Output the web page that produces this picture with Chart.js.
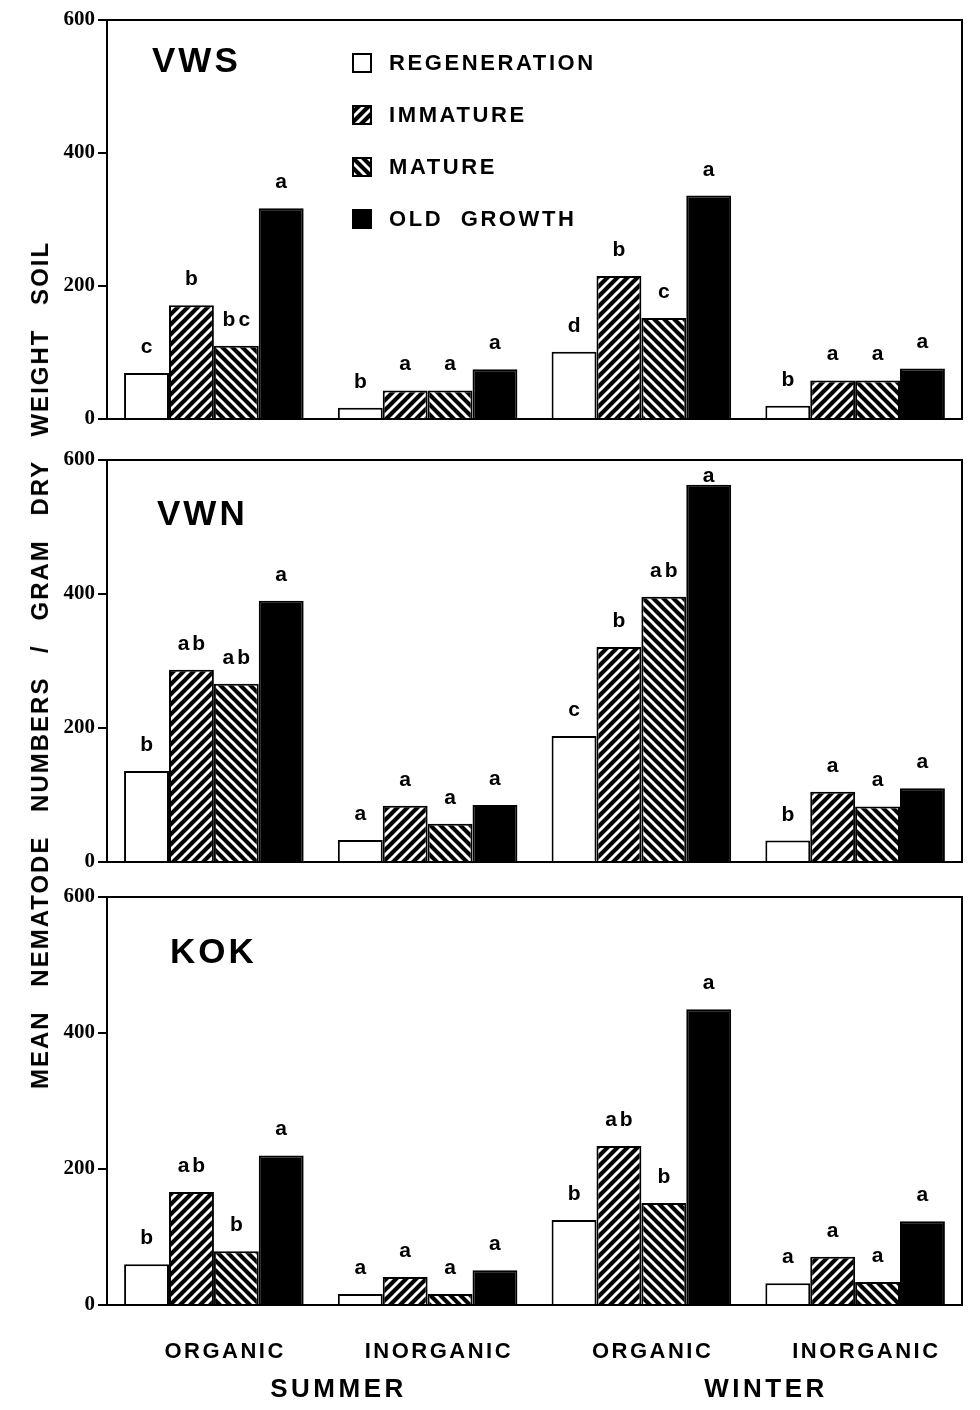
<!DOCTYPE html>
<html><head><meta charset="utf-8">
<script src="https://cdn.jsdelivr.net/npm/chart.js@4.4.1/dist/chart.umd.min.js"></script>
<style>
html,body{margin:0;padding:0;background:#fff;}
#wrap{position:relative;width:980px;height:1410px;overflow:hidden;}
canvas{position:absolute;left:0;}
#ytitle{position:absolute;left:40px;top:665px;transform:translate(-50%,-50%) rotate(-90deg);
 font:bold 24px "Liberation Sans",Arial,sans-serif;letter-spacing:2px;word-spacing:15px;white-space:nowrap;color:#000;}
</style></head>
<body><div id="wrap">
<canvas id="c1" width="980" height="440" style="top:0px"></canvas>
<canvas id="c2" width="980" height="440" style="top:440px"></canvas>
<canvas id="c3" width="980" height="530" style="top:880px"></canvas>
<div id="ytitle">MEAN NEMATODE NUMBERS / GRAM DRY WEIGHT SOIL</div>
</div>
<script>
// ---- data ----
const groups = ['ORGANIC', 'INORGANIC', 'ORGANIC', 'INORGANIC'];
const seasons = ['SUMMER', 'WINTER'];
const seriesNames = ['REGENERATION', 'IMMATURE', 'MATURE', 'OLD  GROWTH'];
const yTicks = [0, 200, 400, 600];

// VWS
const vwsRegeneration = [69, 17, 101, 20];
const vwsImmature     = [171, 43, 215, 58];
const vwsMature       = [110, 43, 152, 58];
const vwsOldGrowth    = [317, 75, 336, 76];
const vwsLetters = [['c','b','d','b'], ['b','a','b','a'], ['bc','a','c','a'], ['a','a','a','a']];

// VWN
const vwnRegeneration = [136, 33, 188, 32];
const vwnImmature     = [287, 84, 321, 105];
const vwnMature       = [266, 57, 396, 83];
const vwnOldGrowth    = [390, 85, 563, 110];
const vwnLetters = [['b','a','c','b'], ['ab','a','b','a'], ['ab','a','ab','a'], ['a','a','a','a']];

// KOK
const kokRegeneration = [60, 16, 125, 32];
const kokImmature     = [166, 41, 234, 71];
const kokMature       = [79, 16, 150, 34];
const kokOldGrowth    = [220, 51, 435, 123];
const kokLetters = [['b','a','b','a'], ['ab','a','ab','a'], ['b','a','b','a'], ['a','a','a','a']];

// ---- styles ----
const SANS = '"Liberation Sans", Arial, sans-serif';
function stripes(dir) {
  const n = 10;
  const c = document.createElement('canvas');
  c.width = c.height = n;
  const g = c.getContext('2d');
  g.fillStyle = '#000'; g.fillRect(0, 0, n, n);
  g.strokeStyle = '#fff'; g.lineWidth = 2.9; g.beginPath();
  if (dir === '/') {
    g.moveTo(-2, n + 2); g.lineTo(n + 2, -2);
    g.moveTo(-2, 2); g.lineTo(2, -2);
    g.moveTo(n - 2, n + 2); g.lineTo(n + 2, n - 2);
  } else {
    g.moveTo(-2, -2); g.lineTo(n + 2, n + 2);
    g.moveTo(n - 2, -2); g.lineTo(n + 2, 2);
    g.moveTo(-2, n - 2); g.lineTo(2, n + 2);
  }
  g.stroke();
  return g.createPattern(c, 'repeat');
}
const fills = ['#ffffff', stripes('/'), stripes('\\'), '#000000'];

function textSpaced(ctx, txt, x, y, spacing) {
  ctx.letterSpacing = spacing + 'px';
  const w = ctx.measureText(txt).width - spacing;
  ctx.textAlign = 'left';
  ctx.fillText(txt, x - w / 2, y);
}

const panelPlugin = {
  id: 'panelPlugin',
  afterDatasetsDraw(chart, args, o) {
    const ctx = chart.ctx, a = chart.chartArea;
    ctx.save();
    // frame
    ctx.strokeStyle = '#000'; ctx.lineWidth = 2;
    ctx.strokeRect(a.left, a.top, a.right - a.left, a.bottom - a.top);
    // letters above bars
    ctx.fillStyle = '#000';
    ctx.font = 'bold 21px ' + SANS;
    ctx.textBaseline = 'alphabetic';
    chart.data.datasets.forEach((ds, i) => {
      const meta = chart.getDatasetMeta(i);
      meta.data.forEach((el, j) => {
        const y = Math.max(el.y - 20, a.top + 22);
        textSpaced(ctx, o.letters[i][j], el.x, y, o.letters[i][j].length > 1 ? 3 : 0);
      });
    });
    // panel name
    ctx.font = 'bold 35px ' + SANS;
    ctx.letterSpacing = '3px';
    ctx.textAlign = 'left'; ctx.textBaseline = 'middle';
    ctx.fillText(o.name, a.left + o.nameDx, a.top + o.nameDy);
    // legend
    if (o.legend) {
      ctx.font = 'bold 22px ' + SANS;
      ctx.letterSpacing = '2.6px';
      seriesNames.forEach((s, i) => {
        const cy = a.top + 43 + i * 52;
        ctx.fillStyle = fills[i];
        ctx.fillRect(353, cy - 9, 18, 18);
        ctx.strokeStyle = '#000'; ctx.lineWidth = 2;
        ctx.strokeRect(353, cy - 9, 18, 18);
        ctx.fillStyle = '#000';
        ctx.fillText(s, 389, cy + 1);
      });
    }
    // x labels
    if (o.xlabels) {
      const xs = chart.scales.x;
      ctx.fillStyle = '#000';
      ctx.textBaseline = 'middle';
      ctx.font = 'bold 22px ' + SANS;
      const px = groups.map((g, i) => xs.getPixelForValue(i) + 10);
      groups.forEach((g, i) => textSpaced(ctx, g, px[i], a.bottom + 47, 2.5));
      ctx.font = 'bold 26px ' + SANS;
      seasons.forEach((s, k) => textSpaced(ctx, s, (px[2 * k] + px[2 * k + 1]) / 2 + 6, a.bottom + 85, 3.5));
    }
    ctx.restore();
  }
};

function makeChart(id, vals, letters, cfg) {
  return new Chart(document.getElementById(id), {
    type: 'bar',
    data: {
      labels: groups,
      datasets: vals.map((v, i) => ({
        label: seriesNames[i], data: v,
        backgroundColor: fills[i], borderColor: '#000', borderWidth: 2,
        categoryPercentage: 0.84, barPercentage: 1.0
      }))
    },
    options: {
      responsive: false, animation: false, events: [],
      layout: { padding: { top: cfg.pt, bottom: cfg.pb, left: 0, right: 18 } },
      plugins: {
        legend: { display: false }, tooltip: { enabled: false },
        panelPlugin: { letters: letters, name: cfg.name, nameDx: cfg.ndx, nameDy: cfg.ndy, legend: !!cfg.legend, xlabels: !!cfg.xlabels }
      },
      scales: {
        x: {
          grid: { display: false },
          border: { display: true, color: '#000', width: 2 },
          ticks: { display: false },
          afterFit(s) { s.height = 0; }
        },
        y: {
          min: 0, max: 600,
          afterBuildTicks(s) { s.ticks = yTicks.map(v => ({ value: v })); },
          ticks: { color: '#000', padding: 3, font: { family: '"Liberation Serif", "Times New Roman", serif', weight: 'bold', size: 21 } },
          grid: { drawOnChartArea: false, drawTicks: true, tickLength: 9, color: '#000', lineWidth: 2 },
          border: { display: true, color: '#000', width: 2 },
          afterFit(s) { s.width = 107; }
        }
      }
    },
    plugins: [panelPlugin]
  });
}

makeChart('c1', [vwsRegeneration, vwsImmature, vwsMature, vwsOldGrowth], vwsLetters,
  { pt: 20, pb: 21, name: 'VWS', ndx: 45, ndy: 42, legend: true });
makeChart('c2', [vwnRegeneration, vwnImmature, vwnMature, vwnOldGrowth], vwnLetters,
  { pt: 20, pb: 18, name: 'VWN', ndx: 50, ndy: 55 });
makeChart('c3', [kokRegeneration, kokImmature, kokMature, kokOldGrowth], kokLetters,
  { pt: 17, pb: 105, name: 'KOK', ndx: 63, ndy: 56, xlabels: true });
</script>
</body></html>
